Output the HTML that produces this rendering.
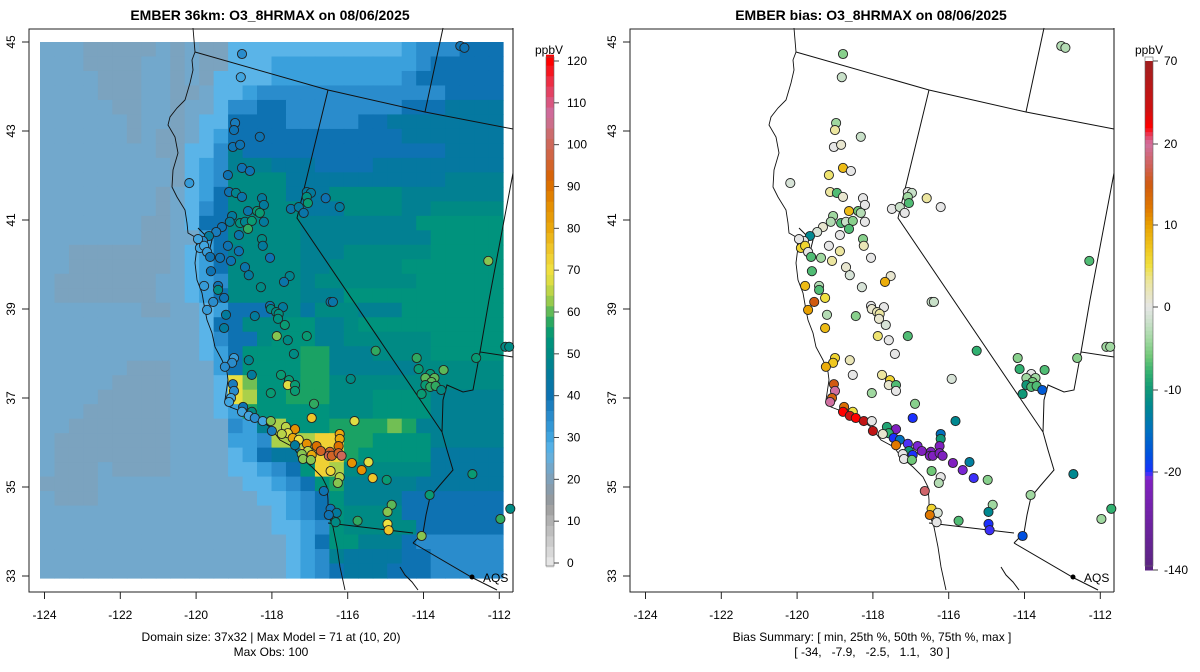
<!DOCTYPE html>
<html><head><meta charset="utf-8"><style>
html,body{margin:0;padding:0;background:#fff}
svg{display:block;font-family:"Liberation Sans",Arial,sans-serif}
text{white-space:pre}
</style></head><body>
<svg id="fig" width="1200" height="672" viewBox="0 0 1200 672"></svg>
<script>
// ---------- DATA ----------
const gridKey = {A:23,G:21,b:27,c:31,d:35,e:40,f:44,h:47,i:50,j:53,k:57,l:61,m:64,n:69,o:73};
const modelRows = [
"AAAGGGGGAGAGGbbbbbbbbbbbbcdddeee",
"AAAGGGGAAGAGGbbbccccccccccdeeeee",
"AAAAGGGAAGAGbbbbcccccccccdeeeeee",
"AAAAGGGAAGGAbbcdddddddddddddeeee",
"AAAAAGGAAGAAbddeeddddddddeeefffff".slice(0,32),
"AAAAAAGAAGAbbeeeedddddeeffffffff",
"AAAAAAGAGGAbceeeeeeeeeeeefffffff",
"AAAAAAAAGGbbdheeeeeeeeeeeeeeffff",
"AAAAAAAAAGbcdhhhfffeeeefffffffff",
"AAAAAAAAAGbcdiiiifffffffffffhhhh",
"AAAAAAAAGAbceiiiifffiiiiihhhhhhh",
"AAAAAAAAGAbdeiiiiifffiiiihhiiiii",
"AAAAAAAGGAbeeiiiiihhhhhhhhjjjjjj",
"AAAAAAAGGAceiiiiihhhhhhhhhjjjjjj".slice(0,10)+"Ace"+"iiiii"+"hhhhhhhhh"+"jjjjj",
"AAGGGGGGGAbcehiiiihhhiiiiiijjjjj",
"AAGGGGGGGAbceiiiiihhiiiiijjjjjjj",
"AGGGGGGGAAbcdiiiiihiiiiiiijjjjjj",
"AGGGGGGGAAbceiiiiihhhjjjjjjjjjjj",
"AAAAAAAGGAAbceeeiifiiihhhjjjjjjj",
"AAAAAAAAAAAbeeiiijjhhijjjjjjjjjj",
"AAAAAAAAAAAbdeeijjjhhiiiiiijjjjj",
"AAAAAAAAAAAbcejjjjkkhhhiiiijjjjj",
"AAAAAAGGGAAAcejjjjkkhhhhhhiiiiii",
"AAAAAGGGGAAAbnljjjkkiiiiiiiiiiii",
"AAAAGGGGGAAAbnmjjkkkiiijjjjhhhhh",
"AAAGGGGGGAAAbckjjjjjiiijjjjhhhhh",
"AAGGGGGGGAAAAdchmjjjkkkklkhhhhhh".slice(0,10)+"AAA"+"dchm"+"jjj"+"kkkk"+"lk"+"hhhhhh",
"AGGGGGGGGAAAAccdmmmookkjjjjhhhhh",
"AGGGGGGGGAAAAbceffoookjjjjjfffff",
"AGGGAGGGGAAAAbbcdejomiiiiiifffff",
"GGGGAAAAAAAAAAbbcdejkhhhhhffffff",
"AGGGAAAAAAAAAAAbbcdejhhhheeeeeee",
"AAAAAAAAAAAAAAAAbcdejiiiieeeeeee",
"AAAAAAAAAAAAAAAAbbcdjiiiiieeeeee",
"AAAAAAAAAAAAAAAAAbcejjhhhedddddd",
"AAAAAAAAAAAAAAAAAbcdhffffeeddddd",
"AAAAAAAAAAAAAAAAAbcdefffeeeddddd"
];
// station locations (axis units) and values
const stLon = [-118.79,-118.82,-113.03,-112.92,-118.97,-119.0,-118.32,-119.03,-118.84,-118.79,-118.58,-119.16,-120.18,-119.13,-118.95,-118.79,-118.26,-118.21,-118.63,-118.39,-118.32,-119.05,-119.11,-118.84,-118.71,-118.53,-118.63,-118.21,-119.32,-119.47,-119.66,-119.82,-119.95,-119.9,-119.79,-119.71,-119.16,-118.87,-118.26,-118.24,-118.87,-119.63,-119.37,-119.08,-118.05,-118.71,-118.61,-119.61,-117.53,-117.68,-119.79,-119.42,-119.42,-119.26,-118.29,-119.55,-117.08,-116.97,-117.08,-117.05,-116.58,-116.21,-117.5,-117.29,-117.16,-112.29,-116.45,-116.39,-118.05,-117.71,-119.71,-119.21,-118.45,-118.03,-117.89,-117.82,-117.84,-117.66,-119.26,-117.87,-117.58,-117.08,-117.42,-115.26,-119.0,-119.05,-118.61,-119.24,-118.53,-117.76,-117.55,-117.58,-117.39,-117.39,-118.03,-115.92,-119.03,-119.0,-119.08,-119.13,-116.89,-118.76,-118.53,-118.79,-118.61,-118.45,-118.24,-118.03,-118.0,-116.95,-115.82,-117.63,-117.39,-117.58,-117.74,-117.45,-117.29,-117.39,-117.08,-116.82,-116.71,-117.05,-116.21,-116.21,-116.24,-116.47,-116.5,-116.42,-116.24,-116.16,-117.21,-117.18,-116.95,-116.97,-115.89,-115.63,-115.45,-116.45,-116.21,-116.26,-115.34,-114.97,-116.63,-114.84,-114.95,-116.45,-116.29,-116.5,-116.32,-115.74,-114.95,-114.92,-114.05,-113.84,-112.71,-111.97,-111.71,-111.84,-111.74,-112.61,-114.18,-114.13,-113.82,-113.95,-113.71,-113.79,-113.95,-113.82,-113.68,-113.47,-113.53,-114.05];
const stLat = [44.73,44.21,44.91,44.87,43.18,43.02,42.87,42.64,42.69,42.17,42.1,42.01,41.83,41.63,41.61,41.52,41.49,41.34,41.2,41.2,41.16,41.09,40.96,40.93,40.96,40.98,40.8,40.96,40.84,40.73,40.64,40.53,40.57,40.37,40.42,40.28,40.42,40.66,40.57,40.42,40.3,40.17,40.15,40.08,40.15,39.94,39.76,39.85,39.74,39.61,39.52,39.52,39.43,39.25,39.49,39.16,41.63,41.61,41.52,41.38,41.49,41.29,41.25,41.29,41.16,40.08,39.16,39.16,39.07,39.04,38.98,38.87,38.84,39.0,38.93,38.89,38.78,38.64,38.57,38.39,38.3,38.39,37.99,38.06,37.9,37.79,37.85,37.7,37.52,37.52,37.4,37.29,37.29,37.16,37.11,37.43,37.31,37.16,37.0,36.91,36.87,36.8,36.69,36.69,36.6,36.55,36.48,36.48,36.26,36.55,36.48,36.35,36.3,36.21,36.19,36.1,36.06,35.94,35.97,35.92,35.81,35.81,36.19,36.08,35.92,35.79,35.7,35.7,35.76,35.7,35.74,35.63,35.72,35.61,35.54,35.38,35.56,35.36,35.22,35.09,35.2,35.16,34.91,34.6,34.44,34.51,34.42,34.37,34.21,34.24,34.17,34.03,33.9,34.82,35.29,34.28,34.51,38.15,38.15,37.9,37.9,37.65,37.54,37.45,37.45,37.36,37.29,37.25,37.27,37.63,37.18,37.09];
const stBias = [-5,-2,-3,-3,-4,3,-2,0,1,8,0,4,-1,3,-7,1,0,0,8,-6,-3,-4,-3,-7,-2,-5,-7,0,1,-1,-12,0,0,6,6,0,0,0,-5,2,3,-7,-4,3,0,1,-1,-7,1,9,8,-3,-7,5,-1,15,0,-2,-4,-7,3,0,0,-2,0,-7,-2,-2,0,0,10,-3,-5,1,2,3,1,-1,8,4,0,-7,0,-8,6,7,2,9,0,3,6,1,-7,0,-4,-1,15,20,14,20,-5,13,5,30,40,30,50,0,50,-20,-12,-9,-30,-8,1,-20,-15,12,-23,-28,-30,-10,-15,-10,-30,-30,-30,-30,-30,-30,0,0,-20,-6,-30,-28,-13,-6,0,-3,-22,-5,18,-4,-12,6,-1,12,0,-7,-20,-22,-18,-4,-12,-4,-8,-4,-4,-5,-5,-8,0,-4,-4,-6,-10,-7,-7,-7,-17,-10];
const stObs = [35,30,40,40,38,40,40,40,40,40,40,40,32,40,48,42,45,45,42,55,55,45,45,52,48,55,58,45,40,38,45,35,30,30,30,32,40,42,50,45,40,40,40,40,40,42,45,40,48,42,32,40,50,40,50,35,45,45,52,55,40,45,42,45,42,62,42,42,42,45,32,45,45,50,50,52,52,55,45,62,50,55,50,58,32,35,48,35,45,55,55,68,55,55,55,50,38,35,30,30,58,40,50,30,30,35,30,62,38,75,68,65,85,68,65,80,70,45,85,90,95,65,80,80,90,95,100,95,95,100,62,62,80,62,85,85,68,72,65,62,75,55,40,60,62,40,45,40,50,58,70,75,62,55,55,58,50,50,50,55,58,55,55,60,60,60,55,58,58,60,50,55];
const obsTicks = [0,10,20,30,40,50,60,70,80,90,100,110,120];
const biasTicks = [70,20,10,0,-10,-20,-140];
const xTicks = [-124,-122,-120,-118,-116,-114,-112];
const yTicks = [33,35,37,39,41,43,45];

// ---------- COLOR MAPS ----------
const obsStops=[[0,'#e6e6e6'],[5,'#cccccc'],[10,'#b3b3b3'],[14,'#9a9a9a'],[17,'#8c9aa6'],[20,'#80a0b8'],[23,'#72a8cc'],[27,'#5ab4e8'],[31,'#3aa0dc'],[35,'#2a8ccc'],[40,'#0e72b2'],[45,'#037a9c'],[50,'#008a84'],[54,'#00967a'],[57,'#1aa264'],[60,'#5cb858'],[63,'#9ccc4c'],[67,'#d8dc44'],[70,'#f0e040'],[74,'#f0cc30'],[80,'#eaa80c'],[86,'#e48c00'],[92,'#d86400'],[97,'#d06440'],[103,'#cc6c70'],[107,'#cc70a0'],[111,'#dc5078'],[115,'#ec3048'],[120,'#ff0000']];
const biasStops=[[-140,'#5a2580'],[-30,'#8020c0'],[-25,'#7030f0'],[-20,'#1a30ff'],[-18,'#0050e0'],[-15,'#0070c0'],[-12,'#008890'],[-10,'#109878'],[-8,'#30b070'],[-6,'#70c878'],[-4,'#a0d8a0'],[-2,'#c8e0c8'],[0,'#e6e6e6'],[3,'#ece6a0'],[5,'#f0e040'],[7,'#f0c820'],[10,'#e8a000'],[12,'#e07800'],[15,'#d05a10'],[17,'#d06050'],[20,'#d070a0'],[25,'#e84060'],[30,'#ff0000'],[40,'#d01010'],[70,'#a02020']];
function hex(c){return [1,3,5].map(i=>parseInt(c.substr(i,2),16));}
function cmap(stops,v){
  if(v<=stops[0][0])return stops[0][1];
  for(let k=1;k<stops.length;k++){
    if(v<=stops[k][0]){const [a,ca]=stops[k-1],[b,cb]=stops[k];const t=(v-a)/(b-a);
      const A=hex(ca),B=hex(cb);return 'rgb('+A.map((x,i)=>Math.round(x+(B[i]-x)*t)).join(',')+')';}
  }
  return stops[stops.length-1][1];
}

// ---------- AXES ----------
const PX0=44.5, PXS=37.9, PY0=42, PYS=44.5, OFF=601;
function X(lon,o){return o+PX0+(lon+124)*PXS;}
function Y(lat){return PY0+(45-lat)*PYS;}
const NS='http://www.w3.org/2000/svg';
const svg=document.getElementById('fig');
function el(tag,attrs,parent,text){const e=document.createElementNS(NS,tag);for(const k in attrs)e.setAttribute(k,attrs[k]);if(text!==undefined)e.textContent=text;(parent||svg).appendChild(e);return e;}

// ---------- MODEL GRID ----------
const gLeft=40,gTop=42,gRight=503,gBot=578;
const gridG=el('g',{});


const nr=modelRows.length,nc=32,cw=(gRight-gLeft)/nc,ch=(gBot-gTop)/nr;
modelRows.forEach((row,r)=>{for(let c=0;c<nc;c++){const v=gridKey[row[c]]||22;
  const cell=el('rect',{x:(gLeft+c*cw).toFixed(2),y:(gTop+r*ch).toFixed(2),width:(cw+0.6).toFixed(2),height:(ch+0.6).toFixed(2),fill:cmap(obsStops,v)},gridG);
  
  
}});

// ---------- BASEMAP ----------
const coast="193,28 195,52 192,60 193,70 190,83 185,100 177,108 170,117 168,125 175,137 178,153 173,170 172,187 177,197 185,210 187,223 188,233 195,237 197,247 195,263 197,280 202,293 205,310 207,320 212,333 215,347 222,360 227,372 228,380 225,400 230,407 243,412 257,418 270,427 280,440 293,447 300,457 312,467 322,477 327,487 328,500 328,513 333,527 337,547 340,567 345,590";
const borders=[
 "195,52 328,90 425,112 513,129",
 "443,28 425,112",
 "328,90 297,218 442,432",
 "442,432 447,450 453,470 440,485 430,497 426,515 423,533 413,543",
 "328,523 413,533",
 "413,543 473,578 497,590",
 "513,173 489,300 480,352 513,357",
 "480,352 473,390 463,392 447,385 443,400 442,432",
 "400,567 405,575 412,582 418,590",
 "198,228 205,235 212,240 210,248 204,252",
 "513,28 513,592"
];
function drawPanel(o,name){
  const g=el('g',{transform:'translate('+o+',0)',fill:'none',stroke:'#111','stroke-width':1});
  
  
  const cl=el('polyline',{points:coast,'stroke-width':0.9},g);
  
  
  borders.forEach(b=>{const p=el('polyline',{points:b},g);
    
    });
  const fr=el('polyline',{points:'513,29 29,29 29,592 513,592','stroke':'#222'},g);
  
  
  const d=el('circle',{cx:472,cy:577,r:2.5,fill:'#000',stroke:'none'},g);
  
  
  const t=el('text',{x:483,y:582,'font-size':12,fill:'#000',stroke:'none'},g,'AQS');
  
  
  xTicks.forEach(v=>{const x=X(v,0);
    const tk=el('line',{x1:x,y1:592,x2:x,y2:599,stroke:'#222'},g);
    
    
    const lb=el('text',{x:x,y:619,'font-size':12,'text-anchor':'middle',fill:'#000',stroke:'none'},g,String(v));
    
    });
  yTicks.forEach(v=>{const y=Y(v);
    const tk=el('line',{x1:29,y1:y,x2:22,y2:y,stroke:'#222'},g);
    
    
    const lb=el('text',{x:0,y:0,'font-size':12,'text-anchor':'middle',fill:'#000',stroke:'none',transform:'translate(15,'+y+') rotate(-90)'},g,String(v));
    
    });
}
drawPanel(0,'left');
drawPanel(OFF,'right');

// ---------- STATIONS ----------
const stG=el('g',{stroke:'#222','stroke-width':0.9});


for(let i=0;i<stLon.length;i++){
  const a=el('circle',{cx:X(stLon[i],0).toFixed(1),cy:Y(stLat[i]).toFixed(1),r:4.6,fill:cmap(obsStops,stObs[i])},stG);
  
  
}
for(let i=0;i<stLon.length;i++){
  const b=el('circle',{cx:X(stLon[i],OFF).toFixed(1),cy:Y(stLat[i]).toFixed(1),r:4.6,fill:cmap(biasStops,stBias[i])},stG);
  
  
}

// ---------- COLORBARS ----------
const cbG=el('g',{});


const cbY=v=>563-(v/120)*502;
for(let v=-1;v<121;v+=2.5){const y1=cbY(v+2.5),y0=cbY(v);
  const s=el('rect',{x:546,y:y1.toFixed(1),width:8,height:(y0-y1+0.5).toFixed(1),fill:cmap(obsStops,v+1.25)},cbG);
  
  }
el('rect',{x:546,y:57,width:8,height:509,fill:'none',stroke:'#666','stroke-width':0.6},cbG);
obsTicks.forEach(v=>{const y=cbY(v);
  el('line',{x1:554,y1:y,x2:559,y2:y,stroke:'#444'},cbG);
  const t=el('text',{x:567,y:y+4,'font-size':12},cbG,String(v));
  
  });
const u1=el('text',{x:549,y:54,'font-size':12,'text-anchor':'middle'},cbG,'ppbV');



const bG=el('g',{});


const bPos=[[70,61],[20,144],[10,225],[0,307],[-10,390],[-20,472],[-140,570]];
function bY(v){for(let k=1;k<bPos.length;k++){const [a,ya]=bPos[k-1],[b,yb]=bPos[k];if(v<=a&&v>=b)return ya+(yb-ya)*(a-v)/(a-b);}return v>70?61:570;}
for(let k=0;k<bPos.length-1;k++){const [a,ya]=bPos[k],[b,yb]=bPos[k+1];const n=Math.round((yb-ya)/4);
  for(let s=0;s<n;s++){const v0=a-(a-b)*s/n,v1=a-(a-b)*(s+1)/n;
    const r=el('rect',{x:1145,y:bY(v0).toFixed(1),width:8,height:(bY(v1)-bY(v0)+0.5).toFixed(1),fill:cmap(biasStops,(v0+v1)/2)},bG);
    
    }}
el('rect',{x:1145,y:57,width:8,height:509,fill:'none',stroke:'#666','stroke-width':0.6},bG);
biasTicks.forEach(v=>{const y=bY(v);
  el('line',{x1:1153,y1:y,x2:1158,y2:y,stroke:'#444'},bG);
  const t=el('text',{x:1164,y:y+4,'font-size':12},bG,String(v));
  
  });
const u2=el('text',{x:1149,y:54,'font-size':12,'text-anchor':'middle'},bG,'ppbV');



// ---------- TITLES / FOOTERS ----------
function txt(x,y,s,name,extra){const a=Object.assign({x:x,y:y,'font-size':12,'text-anchor':'middle'},extra||{});
  const t=el('text',a,svg,s);return t;}
txt(270,20,'EMBER 36km: O3_8HRMAX on 08/06/2025','left-title',{'font-size':14,'font-weight':'bold'});
txt(871,20,'EMBER bias: O3_8HRMAX on 08/06/2025','right-title',{'font-size':14,'font-weight':'bold'});
txt(271,641,'Domain size: 37x32 | Max Model = 71 at (10, 20)','left-footer-domain');
txt(271,656,'Max Obs: 100','left-footer-maxobs');
txt(872,641,'Bias Summary: [ min, 25th %, 50th %, 75th %, max ]','right-footer-summary');
txt(872,656,'[ -34,   -7.9,   -2.5,   1.1,   30 ]','right-footer-values');
</script>
</body></html>
